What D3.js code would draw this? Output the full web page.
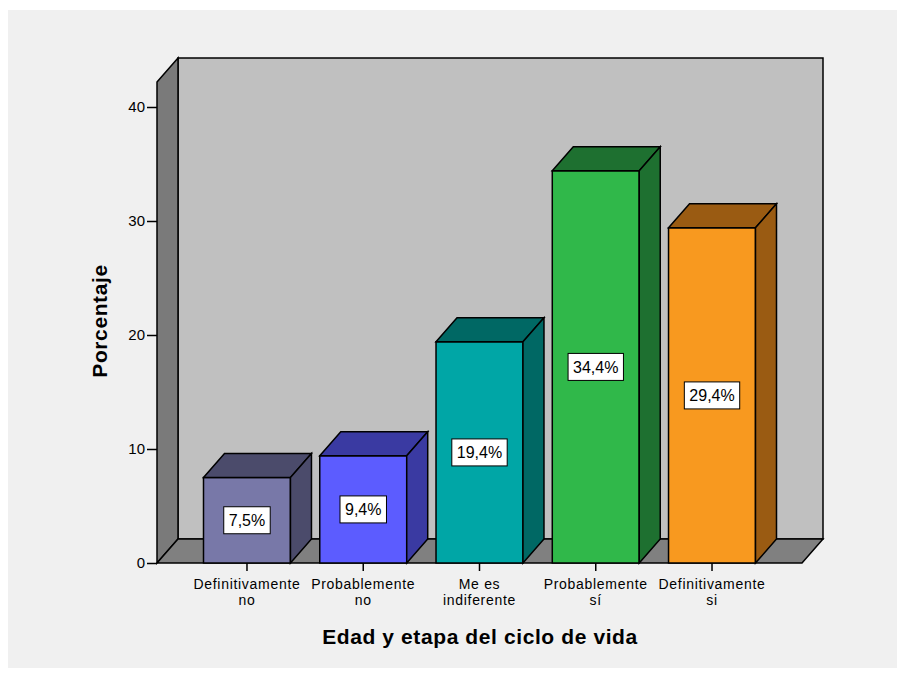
<!DOCTYPE html>
<html>
<head>
<meta charset="utf-8">
<script src="https://cdn.jsdelivr.net/npm/d3@7"></script>
<style>
    body { margin: 0; background: #ffffff; }
    text { font-family: "Liberation Sans", Arial, sans-serif; fill: #000; }
</style>
</head>
<body>
<div id="graphSpace"></div>
<script>
// data
var categories = ["Definitivamente no", "Probablemente no", "Me es indiferente", "Probablemente sí", "Definitivamente si"];
var catLines = [["Definitivamente", "no"], ["Probablemente", "no"], ["Me es", "indiferente"], ["Probablemente", "sí"], ["Definitivamente", "si"]];
var values = [7.5, 9.4, 19.4, 34.4, 29.4];
var valueLabels = ["7,5%", "9,4%", "19,4%", "34,4%", "29,4%"];
var yTicks = [0, 10, 20, 30, 40];
var frontColors = ["#7878a8", "#5c5cff", "#00a6a6", "#30b84a", "#f8991f"];
var darkColors = ["#4b4b6b", "#3a3aa2", "#006864", "#1e7030", "#9a5b12"];

var W = 905, H = 677;
var x0 = 157, x1 = 802, yBottom = 563;
var dx = 21, dy = -24; // 3d depth
var yMax = 42.2;

var svg = d3.select("#graphSpace").append("svg")
    .attr("width", W)
    .attr("height", H);

// panel background
svg.append("rect")
    .attr("x", 8).attr("y", 10)
    .attr("width", 889).attr("height", 658)
    .attr("fill", "#f0f0f0");

var y = d3.scaleLinear().domain([0, 40]).range([yBottom, 107]);
var x = d3.scaleBand().domain(categories).range([x0, x1]).paddingInner(0.252).paddingOuter(0.4);

function poly(pts) {
    return "M" + pts.map(function (p) { return p[0] + "," + p[1]; }).join("L") + "Z";
}

var yTop = y(yMax);

// back wall
svg.append("path")
    .attr("d", poly([[x0 + dx, yTop + dy], [x1 + dx, yTop + dy], [x1 + dx, yBottom + dy], [x0 + dx, yBottom + dy]]))
    .attr("fill", "#c0c0c0").attr("stroke", "#000").attr("stroke-width", 1.5);

// left wall
svg.append("path")
    .attr("d", poly([[x0, yTop], [x0 + dx, yTop + dy], [x0 + dx, yBottom + dy], [x0, yBottom]]))
    .attr("fill", "#7a7a7a").attr("stroke", "#000").attr("stroke-width", 1.5);

// floor
svg.append("path")
    .attr("d", poly([[x0, yBottom], [x0 + dx, yBottom + dy], [x1 + dx, yBottom + dy], [x1, yBottom]]))
    .attr("fill", "#808080").attr("stroke", "#000").attr("stroke-width", 1.5);

// bars
var bars = svg.selectAll(".bar")
    .data(values)
    .enter().append("g")
    .attr("class", "bar");

bars.each(function (d, i) {
    var g = d3.select(this);
    var bx = x(categories[i]), bw = x.bandwidth(), by = y(d);
    // front
    g.append("path")
        .attr("d", poly([[bx, by], [bx + bw, by], [bx + bw, yBottom], [bx, yBottom]]))
        .attr("fill", frontColors[i]).attr("stroke", "#000").attr("stroke-width", 1.5);
    // top
    g.append("path")
        .attr("d", poly([[bx, by], [bx + dx, by + dy], [bx + bw + dx, by + dy], [bx + bw, by]]))
        .attr("fill", darkColors[i]).attr("stroke", "#000").attr("stroke-width", 1.5);
    // side
    g.append("path")
        .attr("d", poly([[bx + bw, by], [bx + bw + dx, by + dy], [bx + bw + dx, yBottom + dy], [bx + bw, yBottom]]))
        .attr("fill", darkColors[i]).attr("stroke", "#000").attr("stroke-width", 1.5);

    // value label box
    var cx = bx + bw / 2, cy = (by + yBottom) / 2;
    var t = g.append("text")
        .attr("x", cx).attr("y", cy + 6)
        .attr("text-anchor", "middle")
        .style("font-size", "16px")
        .text(valueLabels[i]);
    var tw = t.node().getComputedTextLength();
    g.insert("rect", "text")
        .attr("x", cx - tw / 2 - 5).attr("y", cy - 13.5)
        .attr("width", tw + 10).attr("height", 27)
        .attr("fill", "#fff").attr("stroke", "#000").attr("stroke-width", 1);
});

// y axis
var yAxis = svg.append("g")
    .attr("transform", "translate(" + x0 + ",0)")
    .call(d3.axisLeft(y).tickValues(yTicks).tickSize(10).tickPadding(2));
yAxis.select(".domain").remove();
yAxis.selectAll("line").attr("stroke", "#000").attr("stroke-width", 1.5);
yAxis.selectAll("text").style("font-size", "15px").attr("font-family", null);

// x axis ticks + labels
var xAxis = svg.append("g")
    .attr("transform", "translate(0," + yBottom + ")")
    .call(d3.axisBottom(x).tickSize(8).tickFormat(""));
xAxis.select(".domain").remove();
xAxis.selectAll("line").attr("stroke", "#000").attr("stroke-width", 1.5);

// one text per line so the lines don't overlap
catLines.forEach(function (d, i) {
    var cx = x(categories[i]) + x.bandwidth() / 2;
    d.forEach(function (s, j) {
        svg.append("text")
            .attr("class", "catLabel")
            .attr("x", cx)
            .attr("y", 589 + j * 16)
            .attr("text-anchor", "middle")
            .style("font-size", "14px")
            .style("letter-spacing", "0.7px")
            .text(s);
    });
});

// axis titles
svg.append("text")
    .attr("x", 480).attr("y", 644)
    .attr("text-anchor", "middle")
    .style("font-size", "21px")
    .style("font-weight", "bold")
    .style("letter-spacing", "0.6px")
    .text("Edad y etapa del ciclo de vida");

svg.append("text")
    .attr("transform", "translate(107,321) rotate(-90)")
    .attr("text-anchor", "middle")
    .style("font-size", "21px")
    .style("font-weight", "bold")
    .style("letter-spacing", "0.6px")
    .text("Porcentaje");
</script>
</body>
</html>
